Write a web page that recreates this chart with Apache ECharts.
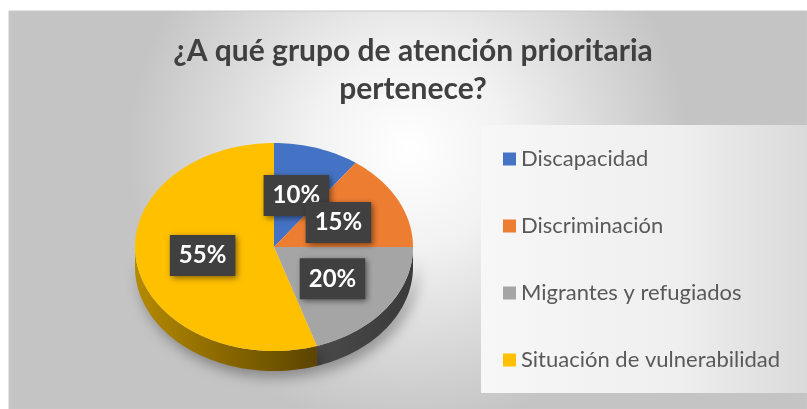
<!DOCTYPE html>
<html>
<head>
<meta charset="utf-8">
<script src="https://cdn.jsdelivr.net/npm/echarts@6/dist/echarts.min.js"></script>
<style>
  html, body { margin: 0; padding: 0; background: #fff; }
  #chart { width: 807px; height: 409px; }
</style>
</head>
<body>
<div id="chart"></div>
<script>
// datos del grafico
var categories = ['Discapacidad', 'Discriminación', 'Migrantes y refugiados', 'Situación de vulnerabilidad'];
var values = [10, 15, 20, 55];
var labels = ['10%', '15%', '20%', '55%'];

var colors = ['#4472C4', '#ED7D31', '#A5A5A5', '#FFC000'];
var sideColors = [['#2f5597', '#203a66'], ['#b85e1f', '#7a3d12'], ['#4a4a4a', '#3a3a3a'], ['#b58a00', '#5c4400']];

// elipse de la torta 3D
var CX = 274, CY = 247, RX = 139, RY = 104, DEPTH = 20;
var total = values.reduce(function (a, b) { return a + b; }, 0);

function pt(t, dy) {
  return [CX + RX * Math.sin(t), CY - RY * Math.cos(t) + (dy || 0)];
}
function arc(a, b, dy) {
  var pts = [];
  var n = Math.max(2, Math.ceil((b - a) / 0.03));
  for (var k = 0; k <= n; k++) {
    pts.push(pt(a + (b - a) * k / n, dy));
  }
  return pts;
}

function sliceRender(i) {
  return function (params, api) {
    var v = api.value(0);
    var before = 0;
    for (var j = 0; j < i; j++) before += values[j];
    var a = before / total * Math.PI * 2;
    var b = (before + v) / total * Math.PI * 2;
    var children = [];
    // lado frontal
    var fa = Math.max(a, Math.PI / 2), fb = Math.min(b, Math.PI * 1.5);
    if (fb > fa) {
      var top = arc(fa, fb, 0);
      var bot = arc(fa, fb, DEPTH).reverse();
      children.push({
        type: 'polygon',
        z2: 1,
        shape: { points: top.concat(bot) },
        style: {
          fill: new echarts.graphic.LinearGradient(0, 0, 1, 0, [
            { offset: 0, color: sideColors[i][0] },
            { offset: 1, color: sideColors[i][1] }
          ]),
          shadowBlur: 14,
          shadowColor: 'rgba(0,0,0,0.35)',
          shadowOffsetX: 4,
          shadowOffsetY: 6
        }
      });
    }
    // cara superior
    children.push({
      type: 'polygon',
      z2: 10,
      shape: { points: [[CX, CY]].concat(arc(a, b, 0)) },
      style: { fill: colors[i] }
    });
    // etiqueta
    var m = (a + b) / 2;
    var lp = [CX + RX * 0.52 * Math.sin(m), CY - RY * 0.52 * Math.cos(m)];
    children.push({
      type: 'text',
      z2: 100 + i,
      x: lp[0],
      y: lp[1],
      style: {
        text: labels[i],
        fill: '#fff',
        font: 'bold 24px Lato',
        align: 'center',
        verticalAlign: 'middle',
        lineHeight: 27,
        backgroundColor: '#404040',
        padding: [7, 9, 7, 9],
        shadowBlur: 6,
        shadowColor: 'rgba(0,0,0,0.5)',
        shadowOffsetX: 2,
        shadowOffsetY: 2
      }
    });
    return { type: 'group', children: children };
  };
}

var series = categories.map(function (name, i) {
  return {
    name: name,
    type: 'custom',
    coordinateSystem: 'none',
    renderItem: sliceRender(i),
    data: [[values[i]]],
    silent: true
  };
});

var chart = echarts.init(document.getElementById('chart'));
chart.setOption({
  animation: false,
  color: colors,
  title: {
    text: '¿A qué grupo de atención prioritaria\npertenece?',
    left: 413,
    top: 32,
    textAlign: 'center',
    padding: 0,
    textStyle: {
      fontFamily: 'Lato',
      fontWeight: 'bold',
      fontSize: 30,
      lineHeight: 38,
      color: '#404040'
    }
  },
  graphic: [
    {
      type: 'rect',
      z: -10,
      silent: true,
      shape: { x: 9, y: 11, width: 798, height: 398 },
      style: {
        fill: new echarts.graphic.RadialGradient(0.5, 0.35, 0.7, [
          { offset: 0, color: '#ffffff' },
          { offset: 0.35, color: '#f2f2f2' },
          { offset: 1, color: '#c4c4c4' }
        ]),
        stroke: '#c8c8c8',
        lineWidth: 1
      }
    },
    {
      type: 'rect',
      z: -9,
      silent: true,
      shape: { x: 481, y: 125, width: 326, height: 268 },
      style: {
        fill: new echarts.graphic.LinearGradient(0, 0, 1, 0, [
          { offset: 0, color: '#f7f7f7' },
          { offset: 0.6, color: '#efefef' },
          { offset: 1, color: '#dadada' }
        ])
      }
    }
  ],
  legend: {
    orient: 'vertical',
    left: 498,
    top: 143,
    itemWidth: 13,
    itemHeight: 13,
    itemGap: 45,
    icon: 'rect',
    selectedMode: false,
    data: categories,
    textStyle: {
      fontFamily: 'Lato',
      fontSize: 22,
      lineHeight: 22,
      color: '#595959'
    }
  },
  series: series
});
</script>
</body>
</html>
